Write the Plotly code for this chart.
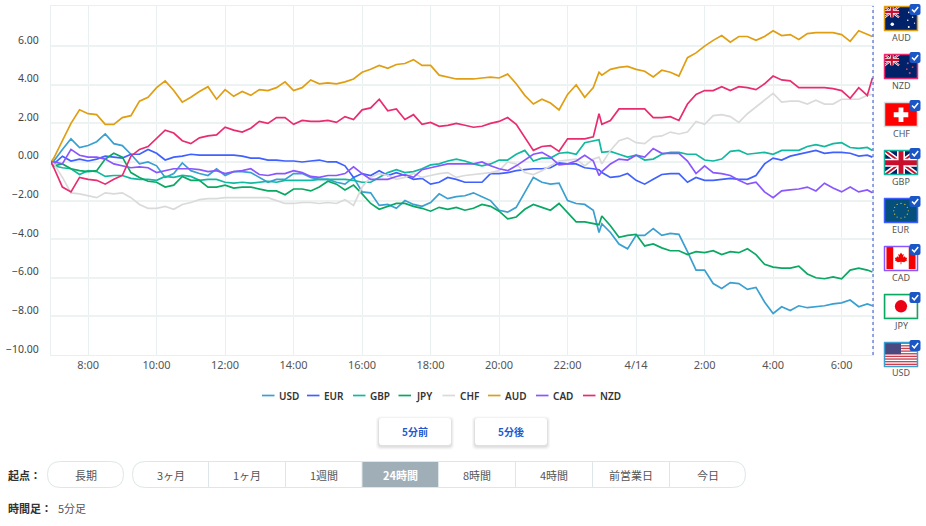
import base64
import pandas as pd
import plotly.graph_objects as go

# values are read off the picture, one row per hour (:00 :15 :30 :45)
# first row starts at 6:55, the 22 row has an extra 22:55 point, last value is 6:54
usd = [0, 0.05, 0.65, 1.2, 0.75,
       0.85, 1.05, 1.45, 0.95,
       0.85, 0.4, -0.1, 0,
       -0.2, -0.8, -0.6, -0.05,
       -0.45, -0.6, -0.7, -0.35,
       -0.7, -0.5, -0.5, -0.55,
       -0.8, -1.05, -0.9, -0.9,
       -0.6, -0.6, -0.8, -0.9,
       -0.9, -1.05, -1.15, -0.8,
       -1.55, -1.6, -2.25, -2.2,
       -2.4, -2.0, -2.2, -2.3,
       -2.1, -1.65, -1.9, -1.8,
       -1.75, -1.6, -1.8, -2.0,
       -2.5, -2.6, -2.35, -1.55,
       -0.8, -1.05, -1.15, -1.1,
       -2.0, -2.15, -2.2, -2.5, -3.65,
       -3.2, -3.65, -4.25, -4.5,
       -3.8, -3.8, -3.45, -3.8,
       -3.7, -3.75, -4.65, -5.6,
       -5.6, -6.3, -6.55, -6.25,
       -6.3, -6.6, -6.5, -7.25,
       -7.85, -7.5, -7.7, -7.45,
       -7.55, -7.5, -7.45, -7.35,
       -7.3, -7.15, -7.5, -7.35, -7.45]
eur = [0, -0.1, 0.3, 0.05, 0.15,
       0.05, 0.15, 0.3, 0.25,
       0.2, 0.4, 0.4, 0.65,
       0.45, 0.1, 0.25, 0.3,
       0.4, 0.35, 0.35, 0.35,
       0.35, 0.35, 0.3, 0.2,
       0.2, 0.1, 0.1, 0.05,
       0.05, 0, 0.05, 0.1,
       0, 0, -0.2, -0.8,
       -0.6, -0.7, -0.45, -0.7,
       -0.55, -0.7, -0.9, -0.85,
       -1.15, -1.05, -0.8, -0.9,
       -1.05, -1.05, -1.05, -0.6,
       -0.6, -0.55, -0.45, -0.4,
       -0.35, -0.35, -0.3, -0.05,
       -0.1, -0.1, -0.3, -0.35, -0.4,
       -0.55, -0.8, -0.75, -0.6,
       -0.95, -1.15, -0.9, -0.65,
       -0.6, -0.6, -1.05, -0.8,
       -0.95, -0.95, -0.9, -0.85,
       -0.9, -0.9, -0.7, -0.1,
       0.2, 0.1, 0.3, 0.4,
       0.5, 0.6, 0.45, 0.5,
       0.5, 0.45, 0.3, 0.35, 0.25]
gbp = [0, -0.2, -0.3, -0.35, -0.65,
       -0.45, -0.5, -0.75, -0.7,
       -0.7, -0.85, -0.9, -0.9,
       -0.95, -0.75, -0.8, -0.7,
       -0.75, -0.95, -0.9, -0.9,
       -1.05, -1.1, -1.05, -1.1,
       -1.05, -1.0, -1.05, -0.95,
       -0.95, -0.95, -0.95, -0.9,
       -0.9, -0.9, -0.9, -0.95,
       -1.05, -1.05, -0.8, -0.55,
       -0.4, -0.55, -0.5, -0.35,
       -0.15, -0.1, 0.05, 0.15,
       0.05, -0.1, -0.2, -0.1,
       0.1, 0.1, 0.4, 0.6,
       0.05, 0.2, 0.2, 0.45,
       0.5, 0.4, 1.0, 1.1, 1.15,
       0.5, 0.55, 0.4, 0.25,
       0.35, 0.1, 0.15, 0.4,
       0.5, 0.5, 0.4, 0.4,
       0.1, 0.05, 0.15, 0.55,
       0.6, 0.4, 0.45, 0.5,
       0.4, 0.6, 0.6, 0.6,
       0.8, 0.9, 0.8, 0.95,
       1.0, 0.75, 0.7, 0.75, 0.6]
jpy = [0, -0.2, -0.1, -0.35, -0.45,
       -0.5, -0.45, 0.15, 0.45,
       0.25, -0.55, -0.8, -1.0,
       -1.05, -1.3, -1.2, -0.75,
       -0.95, -0.95, -1.3, -1.3,
       -1.2, -1.35, -1.3, -1.3,
       -1.4, -1.5, -1.5, -1.7,
       -1.4, -1.4, -1.5, -1.3,
       -1.0, -1.15, -1.45, -1.2,
       -1.65, -2.15, -2.45, -2.3,
       -2.15, -2.15, -2.3, -2.4,
       -2.55, -2.35, -2.45, -2.35,
       -2.5, -2.4, -2.2, -2.3,
       -2.55, -2.95, -2.85, -2.45,
       -2.2, -2.35, -2.5, -2.15,
       -2.6, -3.1, -3.1, -3.2, -3.25,
       -2.8, -3.3, -3.9, -3.8,
       -3.75, -4.35, -4.25, -4.45,
       -4.6, -4.6, -4.8, -4.65,
       -4.7, -4.6, -4.8, -4.65,
       -4.7, -4.5, -4.8, -5.3,
       -5.45, -5.5, -5.5, -5.4,
       -5.8, -6.0, -6.05, -5.95,
       -6.05, -5.6, -5.5, -5.6, -5.7]
chf = [0, -0.1, -0.8, -1.6, -1.65,
       -1.75, -1.85, -1.6, -1.65,
       -1.6, -1.85, -2.2, -2.4,
       -2.4, -2.3, -2.45, -2.2,
       -2.1, -1.95, -1.9, -1.9,
       -1.85, -1.85, -1.85, -1.85,
       -1.85, -1.85, -2.0, -2.15,
       -2.15, -2.1, -2.1, -2.15,
       -2.1, -2.15, -1.95, -2.25,
       -1.3, -0.8, -0.6, -0.7,
       -0.9, -0.8, -0.6, -0.8,
       -0.7, -0.6, -0.55, -0.8,
       -0.7, -0.65, -0.6, -0.55,
       -0.45, 0, -0.1, -0.55,
       -0.65, -0.45, -0.2, 0.05,
       0.1, 0.15, -0.2, 0.15, 0.25,
       -0.1, 0.6, 1.1, 1.25,
       1.0, 0.95, 1.3, 1.35,
       1.55, 1.45, 1.55, 2.1,
       1.95, 2.4, 2.45, 2.35,
       2.05, 2.5, 2.85, 3.2,
       3.55, 3.1, 3.15, 3.15,
       3.0, 3.2, 3.0, 3.0,
       3.25, 3.25, 3.25, 3.45, 3.5]
aud = [0, 0.2, 1.1, 2.0, 2.7,
       2.5, 2.45, 1.95, 1.95,
       2.3, 2.4, 3.15, 3.35,
       3.85, 4.2, 3.7, 3.1,
       3.35, 3.65, 3.9, 3.25,
       3.75, 3.4, 3.65, 3.45,
       3.75, 3.7, 3.85, 4.15,
       3.7, 3.85, 4.25, 4.05,
       4.1, 4.05, 4.15, 4.3,
       4.65, 4.8, 5.0, 4.85,
       5.05, 5.1, 5.3, 5.0,
       5.0, 4.5, 4.4, 4.3,
       4.3, 4.3, 4.35, 4.4,
       4.35, 4.55, 4.05, 3.45,
       3.0, 3.25, 3.05, 2.7,
       3.5, 4.0, 3.35, 3.85, 4.65,
       4.5, 4.8, 4.9, 4.95,
       4.8, 4.7, 4.4, 4.75,
       4.65, 4.45, 5.4, 5.65,
       6.0, 6.3, 6.55, 6.2,
       6.5, 6.5, 6.3, 6.5,
       6.8, 6.55, 6.6, 6.35,
       6.65, 6.7, 6.7, 6.7,
       6.6, 6.25, 6.8, 6.6, 6.5]
cad = [0, 0, -0.1, 0.65, 0.35,
       0.25, 0.25, 0.15, -0.1,
       -0.2, -0.3, -0.25, -0.3,
       -0.55, -0.45, -0.35, -0.35,
       -0.35, -0.4, -0.5, -0.45,
       -0.6, -0.5, -0.45, -0.35,
       -0.65, -0.7, -0.6, -0.6,
       -0.45, -0.55, -0.75, -0.8,
       -0.7, -0.7, -0.6, -0.25,
       -0.6, -0.9, -0.9, -0.9,
       -0.75, -0.65, -0.8, -0.4,
       -0.3, -0.2, -0.1, -0.1,
       -0.1, -0.1, 0, -0.2,
       -0.35, -0.45, -0.2, 0.1,
       0.4, 0.5, 0.25, -0.15,
       -0.1, 0.05, 0.35, 0.05, -0.7,
       -0.5, -0.1, 0.15, 0.1,
       0.35, 0.25, 0.7, 0.45,
       0.45, 0.45, 0.05, -0.6,
       -0.2, -0.55, -0.6, -0.7,
       -0.95, -1.15, -1.05, -1.55,
       -1.85, -1.5, -1.45, -1.4,
       -1.3, -1.5, -1.1, -1.35,
       -1.55, -1.3, -1.55, -1.45, -1.6]
nzd = [0, -0.3, -1.3, -1.55, -0.8,
       -0.9, -0.95, -1.15, -0.9,
       -0.7, 0.3, 0.65, 0.8,
       1.25, 1.65, 1.5, 1.1,
       0.95, 1.25, 1.35, 1.4,
       1.8, 1.65, 1.55, 1.75,
       2.1, 2.0, 2.3, 2.3,
       1.95, 2.15, 2.1, 2.1,
       2.15, 2.05, 2.35, 2.2,
       2.7, 2.8, 3.25, 2.65,
       2.75, 2.2, 2.45, 1.95,
       2.05, 1.85, 1.9, 2.0,
       1.9, 1.8, 1.85, 2.0,
       2.1, 2.3, 1.95, 1.3,
       0.6, 0.8, 0.85, 0.55,
       1.2, 1.2, 1.2, 1.3, 2.5,
       1.95, 2.15, 2.75, 2.75,
       2.75, 2.75, 2.3, 2.3,
       2.35, 2.15, 3.0, 3.5,
       3.7, 3.7, 3.9, 3.7,
       3.9, 3.85, 3.75, 4.05,
       4.45, 4.25, 4.2, 3.85,
       3.85, 3.85, 3.85, 3.8,
       3.7, 3.3, 3.85, 3.45, 4.35]

series_names = ["USD", "EUR", "GBP", "JPY", "CHF", "AUD", "CAD", "NZD"]
series_values = [usd, eur, gbp, jpy, chf, aud, cad, nzd]
series_colors = ["#3a9fd1", "#4061ff", "#12b8a0", "#0aa863", "#dadada", "#e09e12", "#8a56ff", "#e92c70"]

y_ticks = [6, 4, 2, 0, -2, -4, -6, -8, -10]
y_labels = ["6.00", "4.00", "2.00", "0.00", "\u22122.00", "\u22124.00", "\u22126.00", "\u22128.00", "\u221210.00"]
x_ticks = ["2021-04-13 08:00", "2021-04-13 10:00", "2021-04-13 12:00", "2021-04-13 14:00",
           "2021-04-13 16:00", "2021-04-13 18:00", "2021-04-13 20:00", "2021-04-13 22:00",
           "2021-04-14 00:00", "2021-04-14 02:00", "2021-04-14 04:00", "2021-04-14 06:00"]
x_labels = ["8:00", "10:00", "12:00", "14:00", "16:00", "18:00", "20:00", "22:00", "4/14", "2:00", "4:00", "6:00"]

flag_order = ["AUD", "NZD", "CHF", "GBP", "EUR", "CAD", "JPY", "USD"]
range_buttons = ["3ヶ月", "1ヶ月", "1週間", "24時間", "8時間", "4時間", "前営業日", "今日"]

times = pd.date_range("2021-04-13 07:00", "2021-04-14 06:45", freq="15min")
times = times.append(pd.DatetimeIndex(["2021-04-13 06:55", "2021-04-13 22:55", "2021-04-14 06:54"])).sort_values()

W, H = 926, 526
L, R, T, B = 51, 873, 6, 355
GRID = "#e9f0f2"
TEXT = "#555555"
CJK = "Noto Sans CJK JP"


def px(x):
    return (x - L) / (R - L)


def py(y):
    return (B - y) / (B - T)


def round_path(x0, y0, x1, y1, rl, rr=None):
    # rounded box in screen pixels, written in paper coordinates
    rr = rl if rr is None else rr
    p = lambda x, y: f"{px(x):.5f},{py(y):.5f}"
    return (f"M{p(x0 + rl, y0)} L{p(x1 - rr, y0)} Q{p(x1, y0)} {p(x1, y0 + rr)} "
            f"L{p(x1, y1 - rr)} Q{p(x1, y1)} {p(x1 - rr, y1)} L{p(x0 + rl, y1)} "
            f"Q{p(x0, y1)} {p(x0, y1 - rl)} L{p(x0, y0 + rl)} Q{p(x0, y0)} {p(x0 + rl, y0)} Z")


def jack(w, h):
    return (f'<rect width="{w}" height="{h}" fill="#012169"/>'
            f'<path d="M0 0L{w} {h}M{w} 0L0 {h}" stroke="#fff" stroke-width="{h * 0.2}"/>'
            f'<path d="M0 0L{w} {h}M{w} 0L0 {h}" stroke="#c8102e" stroke-width="{h * 0.08}"/>'
            f'<path d="M{w / 2} 0V{h}M0 {h / 2}H{w}" stroke="#fff" stroke-width="{h * 0.33}"/>'
            f'<path d="M{w / 2} 0V{h}M0 {h / 2}H{w}" stroke="#c8102e" stroke-width="{h * 0.2}"/>')


def star(x, y, r, col):
    return f'<circle cx="{x}" cy="{y}" r="{r}" fill="{col}"/>'


def flag_svg(name):
    if name == "AUD":
        s = ('<rect width="34" height="25" fill="#012169"/>' + jack(15, 11)
             + star(8, 18, 1.8, "#fff") + star(25, 6, .8, "#fff") + star(29, 11, .8, "#fff")
             + star(24, 14, .8, "#fff") + star(25, 21, 1, "#fff") + star(31, 17, .6, "#fff"))
    elif name == "NZD":
        s = ('<rect width="34" height="25" fill="#012169"/>' + jack(15, 11)
             + star(24, 9, 1, "#d8405f") + star(29, 13, .9, "#d8405f")
             + star(23, 15, .9, "#d8405f") + star(26, 19, 1.1, "#d8405f"))
    elif name == "CHF":
        s = ('<rect width="34" height="25" fill="#ff0000"/>'
             '<path d="M17 5V20M9.5 12.5H24.5" stroke="#fff" stroke-width="5"/>')
    elif name == "GBP":
        s = jack(34, 25)
    elif name == "EUR":
        dots = [(17, 5), (21, 6), (23.5, 9), (24.5, 12.5), (23.5, 16), (21, 19), (17, 20), (13, 19),
                (10.5, 16), (9.5, 12.5), (10.5, 9), (13, 6)]
        s = '<rect width="34" height="25" fill="#044f7c"/>' + "".join(star(a, b, .6, "#f2cf30") for a, b in dots)
    elif name == "CAD":
        s = ('<rect width="34" height="25" fill="#fff"/><rect x="2" width="7" height="23" fill="#f30000"/>'
             '<rect x="25" width="7" height="23" fill="#f30000"/>'
             '<path d="M17 6L18.7 9 20.5 8.2 19.8 12.5 22 11 23 13 25 13 24 15.5 25 16 21 18.5 17.5 18 17.5 21 16.5 21 '
             '16.5 18 13 18.5 9 16 10 15.5 9 13 11 13 12 11 14.2 12.5 13.5 8.2 15.3 9Z" fill="#f30000" transform="translate(3.4,1.2) scale(.8)"/>')
    elif name == "JPY":
        s = ('<rect width="34" height="25" fill="#fff"/>'
             '<rect x=".7" y=".7" width="32.6" height="22.6" fill="#fff" stroke="#ddd" stroke-width="1.2"/>'
             + star(17, 12, 6.3, "#ec0015"))
    else:
        rows = "".join(f'<rect y="{i * 2.7}" width="34" height="1.35" fill="#c8404e"/>' for i in range(9))
        s = f'<rect width="34" height="25" fill="#fff"/>{rows}<rect width="17" height="12" fill="#4a4a80"/>'
    svg = f'<svg xmlns="http://www.w3.org/2000/svg" viewBox="0 0 34 25">{s}</svg>'
    return "data:image/svg+xml;base64," + base64.b64encode(svg.encode()).decode()


fig = go.Figure()
for name, vals, col in zip(series_names, series_values, series_colors):
    fig.add_trace(go.Scatter(x=times, y=vals, name=name, mode="lines",
                             line=dict(color=col, width=1.7), showlegend=False))

shapes = []
annotations = []
images = []


def label(x, y, text, size=11, color=TEXT, anchor="center", family=CJK, weight=None):
    # annotations keep 2px of padding on their left edge
    annotations.append(dict(xref="paper", yref="paper", x=px(x), y=py(y), text=text, showarrow=False,
                            xanchor=anchor, yanchor="middle", xshift=-2 if anchor == "left" else 0,
                            font=dict(size=size, color=color, family=family, weight=weight)))


def box(path, fill, line="rgba(0,0,0,0)", width=1):
    shapes.append(dict(type="path", xref="paper", yref="paper", path=path, fillcolor=fill, layer="above",
                       line=dict(color=line, width=width)))


# y tick labels sit a little above their gridlines
for v, t in zip(y_ticks, y_labels):
    annotations.append(dict(xref="paper", yref="y", x=px(41), y=v, yshift=6.5, text=t, showarrow=False,
                            xanchor="right", yanchor="middle", font=dict(size=10.5, color="#444", family="Noto Sans")))

# end-of-data marker
shapes.append(dict(type="line", xref="paper", yref="paper", x0=1, x1=1, y0=0, y1=1, layer="above",
                   line=dict(color="#2a50c8", width=1, dash="dot")))

# legend
legend_x = [262, 307, 353, 398.5, 442.5, 488, 536, 583]
for x, name, col in zip(legend_x, series_names, series_colors):
    shapes.append(dict(type="line", xref="paper", yref="paper", x0=px(x), x1=px(x + 12.5), y0=py(395.5), y1=py(395.5),
                       line=dict(color=col, width=1.7)))
    label(x + 17, 395.5, name, size=10, color="#333", anchor="left", family="Noto Sans", weight=600)

# flag column
for i, name in enumerate(flag_order):
    top = 6 + 48 * i
    col = series_colors[series_names.index(name)]
    images.append(dict(source=flag_svg(name), xref="paper", yref="paper", x=px(884.5), y=py(top + .5),
                       sizex=px(917.5) - px(884.5), sizey=py(top) - py(top + 24.5),
                       xanchor="left", yanchor="top", sizing="stretch", layer="above"))
    box(round_path(884.5, top + .5, 917.5, top + 24.5, .1), "rgba(0,0,0,0)", col, 1.5)
    box(round_path(909.5, top - 2, 920.5, top + 9, 2), "#1a56c4")
    shapes.append(dict(type="path", xref="paper", yref="paper", layer="above", line=dict(color="#fff", width=1.5),
                       path=f"M{px(912):.5f},{py(top + 3.5):.5f} L{px(914.3):.5f},{py(top + 5.8):.5f} L{px(918.2):.5f},{py(top + 1):.5f}"))
    label(901, top + 31, name, size=9, color="#555", family="Noto Sans")

# 5分前 / 5分後 buttons with a soft shadow
for x0, x1, text in [(379, 451, "5分前"), (475, 547, "5分後")]:
    for grow, alpha in [(3, .03), (2, .04), (1, .05)]:
        box(round_path(x0 - grow, 418 - grow + 1.5, x1 + grow, 445 + grow + 1.5, 4), f"rgba(0,0,0,{alpha})")
    box(round_path(x0, 418, x1, 445, 3), "#fff")
    label((x0 + x1) / 2, 431.5, text, size=10, color="#2458cf", weight=700)

# range selector
label(8, 475, "起点：", size=11, color="#333", anchor="left", weight=700)
box(round_path(47.5, 461.5, 123.5, 487.5, 13), "#fff", "#dde6e8")
label(85.5, 475, "長期", size=11)

seps = [208.5, 285.5, 362, 438.5, 515.5, 592.5, 669.5]
box(round_path(132.5, 461.5, 745.5, 487.5, 13), "#fff", "#dde6e8")
box(round_path(362, 462, 438.5, 487, .1), "#a0aeb7")
for s in seps:
    shapes.append(dict(type="line", xref="paper", yref="paper", layer="above", x0=px(s), x1=px(s),
                       y0=py(462), y1=py(487), line=dict(color="#dde6e8", width=1)))
centers = [170.5, 247, 323.5, 400, 477, 554, 631, 707.5]
for c, t in zip(centers, range_buttons):
    if t == "24時間":
        label(c, 475, t, size=11, color="#fff", weight=700)
    else:
        label(c, 475, t, size=11)

label(8, 508, "時間足：", size=11, color="#333", anchor="left", weight=700)
label(58, 508, "5分足", size=11, anchor="left")

fig.update_layout(
    width=W, height=H, autosize=False,
    margin=dict(l=L, r=W - R, t=T, b=H - B, pad=0),
    paper_bgcolor="white", plot_bgcolor="white",
    showlegend=False,
    shapes=shapes, annotations=annotations, images=images,
    xaxis=dict(type="date", range=["2021-04-13 06:55", "2021-04-14 06:55"], tickvals=x_ticks, ticktext=x_labels,
               showgrid=True, gridcolor=GRID, gridwidth=1, ticks="", showline=True, linecolor=GRID, mirror=True,
               tickfont=dict(size=11, color="#555", family="Noto Sans"), tickangle=0),
    yaxis=dict(range=[-10, 8.08], tickvals=y_ticks, showticklabels=False, showgrid=True, gridcolor="#edf2f3",
               gridwidth=1.5, zeroline=False, ticks="", showline=True, linecolor=GRID, mirror=True),
)

fig.write_html("out.html", config={"displayModeBar": False},
               post_script="document.body.style.margin='0';document.body.style.overflow='hidden';")
